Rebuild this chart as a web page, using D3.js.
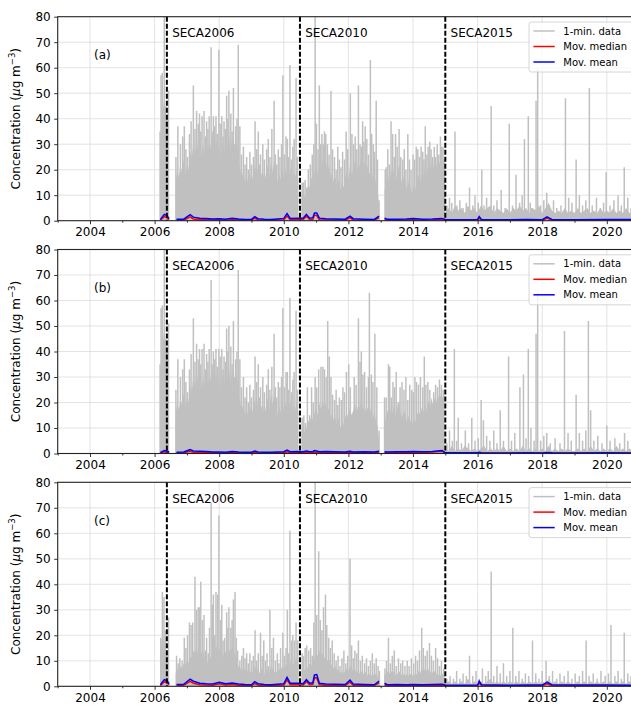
<!DOCTYPE html>
<html>
<head>
<meta charset="utf-8">
<script src="https://cdnjs.cloudflare.com/ajax/libs/d3/7.8.5/d3.min.js"></script>
<style>
  body { margin: 0; background: #fff; }
  svg { display: block; font-family: "DejaVu Sans", sans-serif; }
</style>
</head>
<body>
<svg id="chart" width="631" height="705"></svg>
<script>
// tick values and labels
var majorYears = [2004, 2006, 2008, 2010, 2012, 2014, 2016, 2018, 2020];
var minorYears = [2003, 2005, 2007, 2009, 2011, 2013, 2015, 2017, 2019, 2021];
var yTicks = [0, 10, 20, 30, 40, 50, 60, 70, 80];
var secaYears = [2006.38, 2010.5, 2015.0];
var secaLabels = ["SECA2006", "SECA2010", "SECA2015"];
var panelLabels = ["(a)", "(b)", "(c)"];
var legendLabels = ["1-min. data", "Mov. median", "Mov. mean"];

// 1-min data, tall peaks as [year, value]
var spikesA = [
  [2006.17,35],[2006.20,57],[2006.24,58],[2006.30,80],[2006.34,45],[2006.43,51],
  [2006.66,25],[2006.72,37],[2006.80,30],[2006.87,33],[2006.92,37],[2006.97,28],[2007.02,25],[2007.08,34],[2007.13,39],[2007.20,53],
  [2007.25,36],[2007.30,43],[2007.35,38],[2007.39,42],[2007.43,35],[2007.47,41],[2007.53,43],[2007.57,33],[2007.61,39],[2007.65,36],
  [2007.69,41],[2007.75,68],[2007.78,35],[2007.82,41],[2007.86,37],[2007.90,41],[2007.94,34],[2007.99,67],[2008.03,38],[2008.08,41],
  [2008.12,33],[2008.15,39],[2008.19,36],[2008.23,49],[2008.27,40],[2008.30,51],[2008.36,42],[2008.40,35],[2008.44,52],[2008.48,30],
  [2008.51,37],[2008.55,40],[2008.59,69],[2008.64,37],[2008.69,26],[2008.75,29],[2008.80,22],[2008.85,25],[2008.90,20],[2008.95,27],
  [2009.00,22],[2009.06,25],[2009.11,39],[2009.16,28],[2009.21,35],[2009.25,22],[2009.28,26],[2009.35,30],[2009.40,24],[2009.47,28],
  [2009.52,32],[2009.57,25],[2009.63,36],[2009.70,47],[2009.74,26],[2009.78,22],[2009.83,28],[2009.88,25],[2009.93,30],[2009.97,57],
  [2010.02,26],[2010.07,33],[2010.11,32],[2010.15,25],[2010.19,61],[2010.24,24],[2010.28,29],[2010.32,32],[2010.38,56],[2010.42,25],
  [2010.57,15],[2010.61,15],[2010.66,16],[2010.71,13],[2010.76,20],[2010.82,22],[2010.88,26],[2010.93,30],[2010.97,80],[2011.01,38],
  [2011.06,28],[2011.10,53],[2011.14,30],[2011.18,34],[2011.22,30],[2011.26,35],[2011.30,34],[2011.35,30],[2011.40,26],[2011.46,51],
  [2011.51,28],[2011.57,25],[2011.62,20],[2011.67,29],[2011.72,24],[2011.77,21],[2011.82,27],[2011.88,24],[2011.93,35],[2011.98,28],
  [2012.06,50],[2012.11,34],[2012.16,30],[2012.21,33],[2012.26,28],[2012.31,53],[2012.36,30],[2012.40,29],[2012.44,39],[2012.48,31],
  [2012.52,37],[2012.57,32],[2012.62,26],[2012.68,63],[2012.72,34],[2012.77,30],[2012.81,27],[2012.86,47],[2012.90,24],[2012.95,8],
  [2013.14,20],[2013.17,21],[2013.22,28],[2013.27,22],[2013.32,39],[2013.37,34],[2013.42,25],[2013.46,34],[2013.51,29],[2013.57,36],
  [2013.62,25],[2013.68,24],[2013.73,28],[2013.78,20],[2013.84,34],[2013.89,24],[2013.94,20],[2014.00,26],[2014.05,24],[2014.10,29],
  [2014.15,28],[2014.20,25],[2014.25,29],[2014.30,27],[2014.34,24],[2014.38,37],[2014.43,26],[2014.47,29],[2014.52,31],[2014.56,28],
  [2014.61,25],[2014.66,29],[2014.70,25],[2014.75,30],[2014.80,26],[2014.85,33],[2014.89,29],[2014.93,29],[2014.97,24],
  [2015.05,6],[2015.13,9],[2015.20,7],[2015.30,35],[2015.36,6],[2015.45,8],[2015.55,5],[2015.65,7],[2015.75,13],[2015.85,6],
  [2015.92,10],[2016.02,7],[2016.13,20],[2016.20,6],[2016.28,9],[2016.42,45],[2016.50,6],[2016.60,8],[2016.73,12],[2016.85,5],
  [2016.98,38],[2017.08,6],[2017.19,18],[2017.30,7],[2017.38,10],[2017.45,32],[2017.57,41],[2017.63,7],[2017.68,5],[2017.81,47],
  [2017.86,60],[2017.95,6],[2018.05,8],[2018.14,11],[2018.22,6],[2018.35,8],[2018.45,5],[2018.58,6],[2018.72,48],[2018.82,9],
  [2018.92,7],[2019.05,24],[2019.15,10],[2019.25,6],[2019.35,8],[2019.46,52],[2019.55,6],[2019.68,9],[2019.80,5],[2019.90,7],
  [2019.98,19],[2020.10,6],[2020.22,8],[2020.35,10],[2020.45,6],[2020.54,21],[2020.65,9],[2020.75,5],[2020.85,8],[2020.95,12]
];

var spikesB = [
  [2006.17,35],[2006.20,57],[2006.24,58],[2006.30,80],[2006.34,45],[2006.43,51],
  [2006.66,25],[2006.72,37],[2006.80,30],[2006.87,33],[2006.92,37],[2006.97,28],[2007.02,24],[2007.08,33],[2007.13,39],[2007.20,53],
  [2007.25,36],[2007.30,43],[2007.35,37],[2007.39,41],[2007.43,35],[2007.47,41],[2007.53,43],[2007.57,33],[2007.61,39],[2007.65,36],
  [2007.69,41],[2007.75,68],[2007.78,35],[2007.82,40],[2007.86,37],[2007.90,41],[2007.94,34],[2007.99,41],[2008.03,38],[2008.08,41],
  [2008.12,33],[2008.15,38],[2008.19,36],[2008.23,49],[2008.27,40],[2008.30,50],[2008.36,42],[2008.40,35],[2008.44,52],[2008.48,30],
  [2008.51,37],[2008.55,40],[2008.59,72],[2008.64,37],[2008.69,26],[2008.75,30],[2008.80,22],[2008.85,26],[2008.90,20],[2008.95,27],
  [2009.00,22],[2009.06,25],[2009.11,38],[2009.16,28],[2009.21,35],[2009.25,22],[2009.28,26],[2009.35,30],[2009.40,24],[2009.47,27],
  [2009.52,33],[2009.57,25],[2009.63,34],[2009.70,47],[2009.74,26],[2009.78,22],[2009.83,28],[2009.88,26],[2009.93,30],[2009.97,57],
  [2010.02,26],[2010.07,32],[2010.11,32],[2010.15,25],[2010.19,61],[2010.24,24],[2010.28,29],[2010.32,32],[2010.38,56],[2010.42,25],
  [2010.57,14],[2010.62,15],[2010.67,12],[2010.73,26],[2010.80,15],[2010.86,26],[2010.91,20],[2010.97,30],[2011.02,26],[2011.08,33],
  [2011.15,34],[2011.21,34],[2011.26,33],[2011.31,30],[2011.36,52],[2011.41,38],[2011.46,30],[2011.51,23],[2011.57,21],[2011.62,25],
  [2011.67,19],[2011.72,22],[2011.78,21],[2011.83,26],[2011.88,24],[2011.94,32],[2012.01,35],[2012.06,26],[2012.12,14],[2012.18,30],
  [2012.24,27],[2012.31,53],[2012.36,36],[2012.40,40],[2012.45,31],[2012.50,32],[2012.56,26],[2012.62,30],[2012.65,63],[2012.71,31],
  [2012.76,28],[2012.82,47],[2012.88,26],[2012.95,9],
  [2013.12,22],[2013.17,22],[2013.24,35],[2013.28,34],[2013.33,22],[2013.38,28],[2013.43,26],[2013.48,32],[2013.54,20],[2013.60,26],
  [2013.66,28],[2013.72,25],[2013.78,30],[2013.84,21],[2013.90,27],[2013.96,25],[2014.01,24],[2014.06,30],[2014.11,28],[2014.17,27],
  [2014.23,30],[2014.30,26],[2014.35,38],[2014.40,27],[2014.46,28],[2014.52,25],[2014.58,19],[2014.64,24],[2014.70,27],[2014.76,26],
  [2014.82,29],[2014.88,27],[2014.94,25],
  [2015.05,4],[2015.13,9],[2015.22,5],[2015.28,41],[2015.35,5],[2015.40,14],[2015.50,4],[2015.62,9],[2015.72,4],[2015.82,14],
  [2015.92,5],[2016.02,6],[2016.11,21],[2016.18,13],[2016.28,7],[2016.38,5],[2016.50,9],[2016.60,4],[2016.70,17],[2016.80,5],
  [2016.96,38],[2017.05,5],[2017.15,8],[2017.31,26],[2017.42,31],[2017.50,6],[2017.57,41],[2017.65,10],[2017.75,5],[2017.81,47],
  [2017.86,64],[2017.95,5],[2018.05,7],[2018.14,8],[2018.25,4],[2018.40,6],[2018.55,4],[2018.69,48],[2018.80,8],[2018.90,5],
  [2019.05,23],[2019.15,8],[2019.25,5],[2019.35,9],[2019.43,52],[2019.50,17],[2019.60,5],[2019.72,7],[2019.85,4],[2020.00,11],
  [2020.10,5],[2020.25,6],[2020.40,4],[2020.55,8],[2020.65,5],[2020.80,4],[2020.92,13]
];

var spikesC = [
  [2006.19,19],[2006.24,37],[2006.29,35],[2006.33,22],[2006.43,27],
  [2006.68,12],[2006.73,9],[2006.78,11],[2006.85,10],[2006.92,19],[2006.97,15],[2007.02,20],[2007.08,25],[2007.13,24],[2007.18,25],
  [2007.25,43],[2007.30,30],[2007.35,31],[2007.39,31],[2007.43,41],[2007.48,26],[2007.53,28],[2007.57,14],[2007.61,19],[2007.66,13],
  [2007.70,23],[2007.75,72],[2007.79,32],[2007.82,36],[2007.86,20],[2007.90,37],[2007.95,36],[2007.99,67],[2008.04,26],[2008.08,32],
  [2008.12,18],[2008.17,19],[2008.23,29],[2008.27,23],[2008.30,31],[2008.36,23],[2008.40,26],[2008.44,34],[2008.49,37],[2008.53,19],
  [2008.57,14],[2008.64,10],[2008.70,12],[2008.75,15],[2008.80,11],[2008.85,13],[2008.90,9],[2008.95,13],[2009.01,10],[2009.06,12],
  [2009.11,22],[2009.16,10],[2009.21,13],[2009.28,21],[2009.33,12],[2009.38,18],[2009.43,10],[2009.48,13],[2009.52,8],[2009.57,30],
  [2009.63,15],[2009.68,19],[2009.74,10],[2009.80,13],[2009.85,9],[2009.90,15],[2009.97,21],[2010.02,12],[2010.07,15],[2010.11,30],
  [2010.15,13],[2010.19,61],[2010.24,18],[2010.28,20],[2010.33,18],[2010.38,25],[2010.43,18],
  [2010.57,13],[2010.61,12],[2010.66,15],[2010.71,16],[2010.77,14],[2010.83,15],[2010.88,12],[2010.93,25],[2010.97,80],[2011.02,28],
  [2011.08,53],[2011.13,26],[2011.18,22],[2011.23,31],[2011.29,36],[2011.33,24],[2011.39,19],[2011.44,15],[2011.50,18],[2011.56,13],
  [2011.62,10],[2011.68,12],[2011.74,8],[2011.80,11],[2011.86,14],[2011.92,9],[2011.98,12],[2012.05,50],[2012.10,16],[2012.15,11],
  [2012.20,14],[2012.26,13],[2012.31,18],[2012.37,10],[2012.43,12],[2012.50,9],[2012.56,11],[2012.62,8],[2012.68,10],[2012.74,13],
  [2012.80,9],[2012.86,11],[2012.92,8],[2012.96,6],
  [2013.13,7],[2013.18,10],[2013.24,19],[2013.30,9],[2013.36,12],[2013.42,14],[2013.48,8],[2013.55,11],[2013.62,9],[2013.68,10],
  [2013.75,8],[2013.82,10],[2013.88,8],[2013.95,11],[2014.02,9],[2014.08,12],[2014.14,10],[2014.20,14],[2014.27,23],[2014.32,15],
  [2014.38,12],[2014.44,14],[2014.51,17],[2014.57,12],[2014.63,10],[2014.70,15],[2014.76,11],[2014.82,8],[2014.88,10],[2014.95,7],
  [2015.05,3],[2015.15,4],[2015.25,3],[2015.35,6],[2015.45,3],[2015.55,5],[2015.65,4],[2015.75,12],[2015.85,4],[2015.95,6],
  [2016.05,3],[2016.15,7],[2016.25,4],[2016.33,6],[2016.42,45],[2016.50,4],[2016.60,8],[2016.70,5],[2016.80,9],[2016.90,4],
  [2017.00,6],[2017.09,23],[2017.18,4],[2017.28,6],[2017.38,3],[2017.48,5],[2017.58,4],[2017.70,18],[2017.80,5],[2017.90,3],
  [2018.00,6],[2018.12,10],[2018.22,4],[2018.32,6],[2018.45,3],[2018.55,5],[2018.68,4],[2018.80,6],[2018.92,3],[2019.02,5],
  [2019.15,4],[2019.25,6],[2019.36,18],[2019.45,4],[2019.58,5],[2019.70,3],[2019.82,6],[2019.95,4],[2020.05,5],[2020.13,24],
  [2020.25,4],[2020.35,6],[2020.45,3],[2020.54,21],[2020.65,5],[2020.75,4],[2020.85,6],[2020.96,10]
];

// dense lower band of the 1-min data, in runs of evenly spaced readings
var bodyA = [
  {from: 2006.18, step: 0.05, vals: [30, 50, 45, 42, 40, 45]},
  {from: 2006.65, step: 0.05, vals: [15,20,17,22,19,24,18,
    22,20,27,24,32,26,33,27,31,25, 30,26,33,27,31,28,34,26,32,27,
    30,25,31,26,33,28,36,27,32,30, 28,31,24,20,17,20,15,18,14,19,
    15,18,22,17,21,15,18,20,15,19, 22,17,23,19,24,17,15,19,16,21,
    17,20,18,16,21,15,19,17,20,16]},
  {from: 2010.55, step: 0.05, vals: [10,12,9,11,14,13,17,15,19,
    22,18,24,20,25,21,24,19,22,17, 19,15,17,13,16,12,15,13,17,19,
    16,22,18,20,24,19,23,21,25,20, 23,19,22,18,21,17,19,15,13,6]},
  {from: 2013.12, step: 0.05, vals: [12,15,18,14,20,17,21,16,19,22, 17,14,18,15,12,16,13,11,14,12,
    16,18,15,19,17,21,18,22,19,23, 20,24,21,25,22,26,23,24]},
  {from: 2015.0, step: 0.1, vals: [3,5,3,6,4,5,3,6,4,5, 3,6,4,5,6,3,5,4,3,5, 3,5,4,6,4,5,3,5,4,6,
    3,5,7,4,3,4,3,5,3,4, 3,5,3,4,5,3,4,3,5,3, 4,3,5,3,4,3,5,3,4,3, 4]}
];
var bodyB = [
  {from: 2006.18, step: 0.05, vals: [30, 50, 45, 42, 40, 45]},
  {from: 2006.65, step: 0.05, vals: [15,20,17,22,19,24,18,
    22,20,27,24,31,26,33,27,31,25, 30,26,33,27,31,28,33,26,32,27,
    30,25,31,26,33,28,35,27,32,30, 28,31,24,20,17,20,15,18,14,19,
    15,18,21,17,21,15,18,20,15,19, 22,17,23,19,24,17,15,19,16,21,
    17,20,18,16,21,15,19,17,20,16]},
  {from: 2010.55, step: 0.05, vals: [9,11,8,10,13,12,15,13,16,
    18,15,20,17,21,18,20,16,18,14, 16,13,14,11,14,10,13,11,14,16,
    14,18,15,17,20,16,19,18,21,17, 19,16,18,15,18,14,16,13,11,5]},
  {from: 2013.12, step: 0.05, vals: [12,15,17,14,19,16,20,15,18,21, 16,14,17,15,12,15,13,11,14,12,
    15,17,15,18,16,20,17,21,18,22, 19,22,20,23,21,24,22,23]},
  {from: 2015.0, step: 0.1, vals: [2,1,3,1,2,1,3,2,1,2, 1,2,3,1,2,1,2,1,3,1, 2,1,2,1,3,1,2,1,2,1,
    2,1,3,1,2,1,2,1,2,1, 1,2,1,2,1,3,1,2,1,2, 1,2,1,3,1,2,1,2,1,2, 1]}
];
var bodyC = [
  {from: 2006.18, step: 0.05, vals: [12, 20, 18, 15, 12, 14]},
  {from: 2006.65, step: 0.05, vals: [5,7,6,8,7,9,8,
    10,9,12,11,14,13,16,12,15,13, 14,11,10,9,12,11,15,13,16,14,
    15,12,13,11,14,12,15,13,16,14, 12,10,8,7,6,8,6,7,5,6,
    5,6,8,6,7,5,7,6,5,7, 6,5,8,7,6,5,6,7,6,8,
    7,8,9,7,10,8,9,10,11,9]},
  {from: 2010.55, step: 0.05, vals: [6,7,6,8,7,9,8,10,11,
    13,12,14,12,13,11,12,10,11,9, 8,7,8,6,7,5,6,5,6,7,
    6,8,7,6,7,5,6,5,6,5, 5,6,4,5,4,5,4,5,4,3]},
  {from: 2013.12, step: 0.05, vals: [4,5,6,5,6,5,6,4,5,6, 5,4,5,4,5,4,5,4,5,4,
    5,6,5,7,6,7,6,7,5,6, 5,6,5,4,5,4,5,4]},
  {from: 2015.0, step: 0.1, vals: [1,2,1,2,1,2,1,3,1,2, 1,2,1,2,3,1,2,1,2,1, 2,1,2,1,2,1,2,1,2,1,
    2,1,3,1,2,1,2,1,2,1, 1,2,1,2,1,2,1,2,1,2, 1,2,1,2,1,2,1,2,1,2, 1]}
];

// moving median / mean, same time points for every panel (null = gap)
var smoothYears = [
  2006.18, 2006.3, 2006.38, 2006.45, 2006.5, 2006.68, 2006.9, 2007.1,
  2007.2, 2007.4, 2007.6, 2007.8, 2008.0, 2008.2, 2008.4, 2008.6,
  2008.8, 2009.0, 2009.1, 2009.2, 2009.4, 2009.6, 2009.8, 2010.0,
  2010.1, 2010.2, 2010.45, 2010.6, 2010.7, 2010.8, 2010.9, 2010.95,
  2011.02, 2011.1, 2011.3, 2011.6, 2011.9, 2012.05, 2012.15, 2012.5,
  2012.8, 2012.95, 2013.0, 2013.12, 2013.2, 2013.5, 2013.8, 2014.0,
  2014.3, 2014.6, 2014.9, 2015.0, 2015.5, 2016.0, 2016.05, 2016.12,
  2017.0, 2017.5, 2018.0, 2018.15, 2018.3, 2019.0, 2020.0, 2021.0];
var meanA = [
  0.5, 2.5, 2.0, 0.8, null, 0.6, 0.6, 2.4,
  1.4, 1.0, 0.9, 0.7, 0.8, 0.6, 1.0, 0.7,
  0.5, 0.5, 1.6, 0.8, 0.6, 0.5, 0.7, 0.9,
  2.8, 0.9, 1.0, 1.0, 2.5, 1.0, 1.2, 3.0,
  3.0, 1.0, 0.8, 0.7, 0.6, 1.8, 0.8, 0.6,
  0.5, 1.8, null, 1.0, 0.6, 0.6, 0.7, 0.9,
  0.6, 0.7, 0.9, 0.5, 0.4, 0.5, 1.6, 0.5,
  0.4, 0.5, 0.4, 1.5, 0.5, 0.4, 0.5, 0.4];
var medianA = [
  0.2, 1.6, 1.2, 0.4, null, 0.2, 0.2, 1.5,
  0.7, 0.4, 0.4, 0.3, 0.3, 0.2, 0.4, 0.3,
  0.2, 0.2, 1.0, 0.3, 0.2, 0.2, 0.3, 0.4,
  1.8, 0.4, 0.5, 0.5, 1.8, 0.5, 0.6, 2.2,
  2.0, 0.4, 0.3, 0.3, 0.2, 1.2, 0.3, 0.2,
  0.2, 1.2, null, 0.5, 0.2, 0.2, 0.3, 0.4,
  0.2, 0.3, 0.5, 0.2, 0.1, 0.2, 1.0, 0.2,
  0.1, 0.2, 0.1, 1.0, 0.2, 0.1, 0.2, 0.1];
var meanB = [
  0.4, 1.2, 1.0, 0.6, null, 0.5, 0.6, 1.5,
  1.0, 0.9, 0.8, 0.6, 0.6, 0.5, 0.8, 0.6,
  0.5, 0.5, 1.0, 0.6, 0.5, 0.5, 0.6, 0.7,
  1.3, 0.7, 0.8, 0.7, 1.0, 0.7, 0.8, 1.2,
  1.0, 0.7, 0.8, 0.7, 0.6, 0.9, 0.6, 0.7,
  0.6, 0.9, null, 0.7, 0.6, 0.7, 0.7, 0.8,
  0.7, 0.8, 1.2, 0.3, 0.3, 0.3, 0.5, 0.3,
  0.2, 0.3, 0.2, 0.4, 0.3, 0.2, 0.3, 0.2];
var medianB = [
  0.2, 0.7, 0.6, 0.3, null, 0.2, 0.3, 0.9,
  0.5, 0.4, 0.4, 0.3, 0.3, 0.2, 0.4, 0.3,
  0.2, 0.2, 0.5, 0.3, 0.2, 0.2, 0.3, 0.3,
  0.7, 0.3, 0.4, 0.3, 0.5, 0.3, 0.4, 0.6,
  0.5, 0.3, 0.4, 0.3, 0.3, 0.4, 0.3, 0.3,
  0.3, 0.5, null, 0.3, 0.3, 0.3, 0.4, 0.5,
  0.4, 0.6, 0.9, 0.1, 0.1, 0.1, 0.2, 0.1,
  0.1, 0.1, 0.1, 0.2, 0.1, 0.1, 0.1, 0.1];
var meanC = [
  0.6, 2.6, 2.2, 1.0, null, 0.7, 0.8, 2.8,
  2.0, 1.2, 1.0, 0.9, 1.6, 1.0, 1.3, 0.9,
  0.7, 0.6, 1.8, 1.0, 0.7, 0.6, 0.8, 1.0,
  3.5, 1.2, 1.2, 1.0, 2.6, 1.2, 1.4, 4.5,
  4.6, 1.2, 0.9, 0.8, 0.7, 2.4, 0.9, 0.7,
  0.6, 2.0, null, 1.2, 0.6, 0.7, 0.6, 0.7,
  0.6, 0.7, 0.8, 0.5, 0.4, 0.5, 2.0, 0.6,
  0.4, 0.5, 0.5, 1.6, 0.6, 0.5, 0.5, 0.4];
var medianC = [
  0.3, 1.8, 1.4, 0.5, null, 0.3, 0.4, 1.9,
  1.2, 0.6, 0.5, 0.4, 1.0, 0.5, 0.7, 0.4,
  0.3, 0.3, 1.1, 0.5, 0.3, 0.3, 0.4, 0.5,
  2.5, 0.6, 0.6, 0.5, 1.9, 0.6, 0.8, 3.4,
  3.3, 0.6, 0.4, 0.4, 0.3, 1.6, 0.4, 0.3,
  0.3, 1.4, null, 0.6, 0.3, 0.3, 0.3, 0.3,
  0.3, 0.3, 0.4, 0.2, 0.2, 0.2, 1.4, 0.3,
  0.2, 0.2, 0.2, 1.0, 0.3, 0.2, 0.2, 0.2];

// layout: the axes run on past the right edge of the window (cut off like the original)
var svg = d3.select("#chart"),
    margin = {left: 57.7, top: 16.7},
    plotW = 581.4,
    plotH = 204,
    panelStep = 232.8;

var grey = "#c0c0c0", red = "#ff0000", blue = "#0000ff";
var colours = [grey, red, blue];

var x = d3.scaleLinear().domain([2003, 2021]).range([0, plotW]);
var y = d3.scaleLinear().domain([0, 80]).range([plotH, 0]);

var panels = [
  {label: panelLabels[0], spikes: spikesA, body: bodyA, mean: meanA, median: medianA},
  {label: panelLabels[1], spikes: spikesB, body: bodyB, mean: meanB, median: medianB},
  {label: panelLabels[2], spikes: spikesC, body: bodyC, mean: meanC, median: medianC}
];

svg.append("defs").append("clipPath").attr("id", "plotclip")
  .append("rect").attr("width", plotW).attr("height", plotH);

var area = d3.area()
    .defined(function(d) { return d[1] != null; })
    .x(function(d) { return x(d[0]); })
    .y0(y(0))
    .y1(function(d) { return y(d[1]); });

var line = d3.line()
    .defined(function(d) { return d[1] != null; })
    .x(function(d) { return x(d[0]); })
    .y(function(d) { return y(d[1]); });

// runs -> [year, value] points, with a break between runs
function runsToPoints(runs) {
  var pts = [];
  runs.forEach(function(r) {
    r.vals.forEach(function(v, k) { pts.push([r.from + k * r.step, v]); });
    pts.push([r.from, null]);
  });
  return pts;
}

function pairs(vals) {
  return smoothYears.map(function(t, i) { return [t, vals[i]]; });
}

panels.forEach(function(p, i) {
  var g = svg.append("g")
      .attr("transform", "translate(" + margin.left + "," + (margin.top + i * panelStep) + ")");

  // grid
  g.append("g").selectAll("line").data(yTicks.slice(1, -1)).enter().append("line")
      .attr("x1", 0).attr("x2", plotW)
      .attr("y1", function(d) { return y(d); }).attr("y2", function(d) { return y(d); })
      .attr("stroke", "#dcdcdc").attr("stroke-width", 0.8);
  g.append("g").selectAll("line").data(majorYears).enter().append("line")
      .attr("x1", function(d) { return x(d); }).attr("x2", function(d) { return x(d); })
      .attr("y1", 0).attr("y2", plotH)
      .attr("stroke", "#dcdcdc").attr("stroke-width", 0.8);

  var data = g.append("g").attr("clip-path", "url(#plotclip)");

  // 1-min data: dense band + peaks
  data.append("path").datum(runsToPoints(p.body)).attr("d", area).attr("fill", grey);
  data.append("g").selectAll("line").data(p.spikes).enter().append("line")
      .attr("x1", function(d) { return x(d[0]); }).attr("x2", function(d) { return x(d[0]); })
      .attr("y1", y(0)).attr("y2", function(d) { return y(d[1]); })
      .attr("stroke", grey).attr("stroke-width", 1.5);

  // moving median then mean
  data.append("path").datum(pairs(p.median)).attr("d", line)
      .attr("fill", "none").attr("stroke", red).attr("stroke-width", 1.5);
  data.append("path").datum(pairs(p.mean)).attr("d", line)
      .attr("fill", "none").attr("stroke", blue).attr("stroke-width", 1.5);

  // SECA lines
  g.append("g").selectAll("line").data(secaYears).enter().append("line")
      .attr("x1", function(d) { return x(d); }).attr("x2", function(d) { return x(d); })
      .attr("y1", 0).attr("y2", plotH)
      .attr("stroke", "#000").attr("stroke-width", 2).attr("stroke-dasharray", "5,2");
  g.append("g").selectAll("text").data(secaYears).enter().append("text")
      .attr("x", function(d) { return x(d) + 5.3; })
      .attr("y", 20.6)
      .attr("font-size", 12)
      .text(function(d, k) { return secaLabels[k]; });

  g.append("text").attr("x", 36.3).attr("y", 42.5).attr("font-size", 12).text(p.label);

  // axes
  var bottom = g.append("g").attr("transform", "translate(0," + plotH + ")")
      .call(d3.axisBottom(x).tickValues(majorYears).tickFormat(d3.format("d")).tickSize(3.5).tickPadding(3.5));
  var minor = g.append("g").attr("transform", "translate(0," + plotH + ")")
      .call(d3.axisBottom(x).tickValues(minorYears).tickFormat("").tickSize(2));
  var left = g.append("g")
      .call(d3.axisLeft(y).tickValues(yTicks).tickSize(3.5).tickPadding(3.5));
  [bottom, minor, left].forEach(function(a) {
    a.attr("font-family", null).attr("font-size", 12);
    a.select(".domain").remove();
    a.selectAll(".tick line").attr("stroke", "#000").attr("stroke-width", 0.8);
  });

  // spines
  g.append("rect").attr("width", plotW).attr("height", plotH)
      .attr("fill", "none").attr("stroke", "#222").attr("stroke-width", 1.1);

  // y label
  var yl = g.append("text")
      .attr("transform", "translate(-37.7," + plotH / 2 + ") rotate(-90)")
      .attr("text-anchor", "middle")
      .attr("font-size", 12);
  yl.append("tspan").text("Concentration (");
  yl.append("tspan").attr("font-style", "italic").text("μ");
  yl.append("tspan").text("g m");
  yl.append("tspan").attr("font-size", 8.5).attr("dy", -5).text("−3");
  yl.append("tspan").attr("dy", 5).text(")");

  // legend
  var lg = g.append("g").attr("transform", "translate(" + (529 - margin.left) + ",5.3)");
  lg.append("rect").attr("width", 125).attr("height", 50).attr("rx", 2.5)
      .attr("fill", "#fff").attr("fill-opacity", 0.8)
      .attr("stroke", "#cccccc").attr("stroke-width", 0.8);
  var items = lg.selectAll("g").data(legendLabels).enter().append("g")
      .attr("transform", function(d, k) { return "translate(0," + (9 + k * 15.5) + ")"; });
  items.append("line").attr("x1", 4.4).attr("x2", 25.7)
      .attr("stroke", function(d, k) { return colours[k]; }).attr("stroke-width", 1.5);
  items.append("text").attr("x", 34.3).attr("dy", "0.35em").attr("font-size", 10)
      .text(function(d) { return d; });
});
</script>
</body>
</html>
